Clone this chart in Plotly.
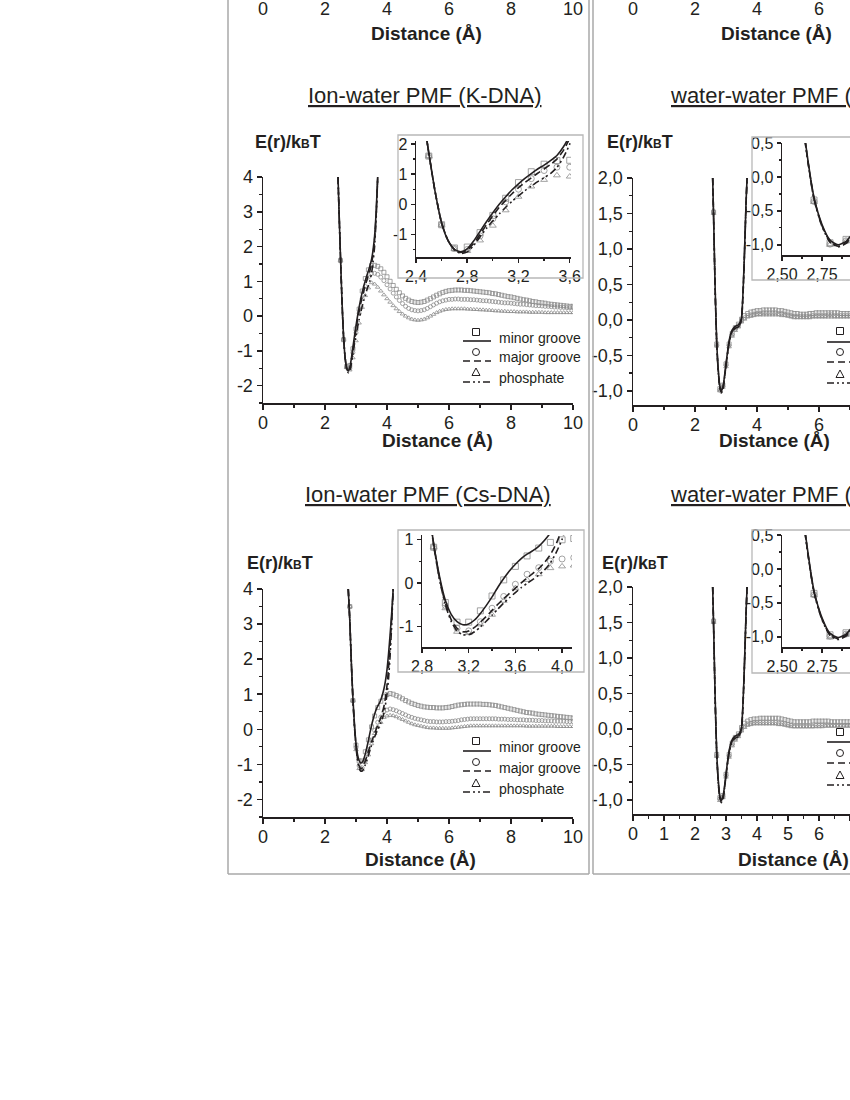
import plotly.graph_objects as go

W, H = 850, 1100
FONT = "Liberation Sans, Arial, Helvetica, sans-serif"
INK = "#231f20"
MARK = "#8c8c8c"
FRAME = "#a8a8a8"

# ---------------- Ion-water PMF (K-DNA) ----------------
K_R = [2.5, 2.6, 2.7, 2.8, 2.9, 3.0, 3.1, 3.2, 3.3, 3.4,
       3.5, 3.6, 3.7, 3.8, 3.9, 4.0, 4.1, 4.2, 4.3, 4.4,
       4.5, 4.6, 4.7, 4.8, 4.9, 5.0, 5.1, 5.2, 5.3, 5.4,
       5.5, 5.6, 5.7, 5.8, 5.9, 6.0, 6.1, 6.2, 6.3, 6.4,
       6.5, 6.6, 6.7, 6.8, 6.9, 7.0, 7.1, 7.2, 7.3, 7.4,
       7.5, 7.6, 7.7, 7.8, 7.9, 8.0, 8.1, 8.2, 8.3, 8.4,
       8.5, 8.6, 8.7, 8.8, 8.9, 9.0, 9.1, 9.2, 9.3, 9.4,
       9.5, 9.6, 9.7, 9.8, 9.9, 10.0]
K_MINOR = [1.60, -0.68, -1.45, -1.42, -0.94, -0.37, 0.20, 0.72, 1.08, 1.33,
           1.45, 1.46, 1.43, 1.36, 1.26, 1.13, 1.00, 0.88, 0.77, 0.67,
           0.58, 0.51, 0.46, 0.42, 0.40, 0.39, 0.40, 0.42, 0.46, 0.50,
           0.55, 0.60, 0.64, 0.68, 0.71, 0.73, 0.74, 0.75, 0.75, 0.75,
           0.74, 0.74, 0.73, 0.72, 0.71, 0.70, 0.69, 0.68, 0.67, 0.65,
           0.64, 0.62, 0.60, 0.58, 0.56, 0.55, 0.53, 0.51, 0.49, 0.47,
           0.46, 0.44, 0.42, 0.41, 0.39, 0.38, 0.37, 0.35, 0.34, 0.33,
           0.32, 0.31, 0.30, 0.29, 0.28, 0.28]
K_MAJOR = [1.60, -0.68, -1.47, -1.50, -1.05, -0.48, 0.08, 0.50, 0.85, 1.12,
           1.23, 1.23, 1.20, 1.12, 1.02, 0.90, 0.78, 0.66, 0.55, 0.45,
           0.36, 0.28, 0.22, 0.18, 0.16, 0.15, 0.16, 0.18, 0.22, 0.27,
           0.32, 0.37, 0.41, 0.44, 0.46, 0.48, 0.48, 0.49, 0.49, 0.48,
           0.48, 0.48, 0.47, 0.47, 0.46, 0.45, 0.44, 0.44, 0.43, 0.42,
           0.41, 0.40, 0.39, 0.38, 0.38, 0.37, 0.36, 0.35, 0.34, 0.34,
           0.33, 0.32, 0.31, 0.30, 0.30, 0.29, 0.28, 0.28, 0.27, 0.26,
           0.26, 0.25, 0.25, 0.24, 0.24, 0.24]
K_PHOS = [1.60, -0.68, -1.48, -1.55, -1.20, -0.71, -0.20, 0.25, 0.59, 0.81,
          0.96, 0.92, 0.83, 0.72, 0.61, 0.50, 0.40, 0.30, 0.21, 0.13,
          0.06, 0.00, -0.05, -0.09, -0.11, -0.12, -0.11, -0.09, -0.05, 0.00,
          0.05, 0.10, 0.14, 0.17, 0.19, 0.20, 0.21, 0.21, 0.21, 0.21,
          0.21, 0.20, 0.20, 0.19, 0.19, 0.18, 0.18, 0.17, 0.17, 0.16,
          0.15, 0.15, 0.14, 0.14, 0.13, 0.13, 0.13, 0.12, 0.12, 0.12,
          0.12, 0.11, 0.11, 0.11, 0.11, 0.11, 0.10, 0.10, 0.10, 0.10,
          0.10, 0.10, 0.10, 0.10, 0.10, 0.10]
# fitted curves around the first well
K_FIT_R = [2.42, 2.45, 2.5, 2.55, 2.6, 2.65, 2.7, 2.75, 2.8, 2.85, 2.9, 2.95, 3.0, 3.05,
           3.1, 3.15, 3.2, 3.25, 3.3, 3.35, 3.4, 3.45, 3.5, 3.55, 3.6, 3.65, 3.7]
K_FIT_MINOR = [4.0, 3.1, 1.7, 0.4, -0.62, -1.2, -1.5, -1.58, -1.48, -1.22, -0.9, -0.58, -0.28, 0.0,
               0.25, 0.48, 0.68, 0.86, 1.02, 1.17, 1.3, 1.45, 1.62, 1.9, 2.3, 3.0, 4.0]
K_FIT_MAJOR = [4.0, 3.1, 1.7, 0.4, -0.62, -1.2, -1.5, -1.6, -1.52, -1.3, -1.0, -0.68, -0.38, -0.1,
               0.13, 0.35, 0.55, 0.72, 0.88, 1.03, 1.17, 1.32, 1.5, 1.78, 2.2, 2.9, 4.0]
K_FIT_PHOS = [4.0, 3.1, 1.7, 0.4, -0.62, -1.2, -1.52, -1.63, -1.58, -1.37, -1.08, -0.8, -0.55, -0.32,
              -0.1, 0.1, 0.28, 0.45, 0.6, 0.75, 0.88, 1.02, 1.22, 1.55, 2.0, 2.8, 4.0]

# ---------------- Ion-water PMF (Cs-DNA) ----------------
CS_R = [2.8, 2.9, 3.0, 3.1, 3.2, 3.3, 3.4, 3.5, 3.6, 3.7,
        3.8, 3.9, 4.0, 4.1, 4.2, 4.3, 4.4, 4.5, 4.6, 4.7,
        4.8, 4.9, 5.0, 5.1, 5.2, 5.3, 5.4, 5.5, 5.6, 5.7,
        5.8, 5.9, 6.0, 6.1, 6.2, 6.3, 6.4, 6.5, 6.6, 6.7,
        6.8, 6.9, 7.0, 7.1, 7.2, 7.3, 7.4, 7.5, 7.6, 7.7,
        7.8, 7.9, 8.0, 8.1, 8.2, 8.3, 8.4, 8.5, 8.6, 8.7,
        8.8, 8.9, 9.0, 9.1, 9.2, 9.3, 9.4, 9.5, 9.6, 9.7,
        9.8, 9.9, 10.0]
CS_MINOR = [3.50, 0.82, -0.45, -0.90, -0.90, -0.64, -0.30, 0.07, 0.38, 0.62,
            0.80, 0.93, 0.99, 1.02, 1.00, 0.96, 0.92, 0.87, 0.82, 0.78,
            0.74, 0.71, 0.68, 0.66, 0.64, 0.63, 0.62, 0.62, 0.61, 0.61,
            0.61, 0.62, 0.63, 0.65, 0.67, 0.69, 0.70, 0.71, 0.72, 0.72,
            0.72, 0.72, 0.72, 0.71, 0.71, 0.70, 0.69, 0.68, 0.66, 0.64,
            0.62, 0.60, 0.58, 0.56, 0.54, 0.52, 0.50, 0.48, 0.47, 0.46,
            0.44, 0.43, 0.42, 0.41, 0.40, 0.39, 0.38, 0.37, 0.36, 0.35,
            0.34, 0.33, 0.32]
CS_MAJOR = [3.50, 0.82, -0.52, -1.04, -1.10, -0.89, -0.58, -0.31, -0.03, 0.20,
            0.35, 0.50, 0.55, 0.58, 0.56, 0.53, 0.49, 0.45, 0.41, 0.37,
            0.34, 0.31, 0.29, 0.27, 0.25, 0.23, 0.22, 0.22, 0.21, 0.21,
            0.21, 0.22, 0.22, 0.23, 0.24, 0.25, 0.27, 0.28, 0.29, 0.30,
            0.30, 0.30, 0.30, 0.30, 0.30, 0.30, 0.30, 0.30, 0.29, 0.29,
            0.29, 0.28, 0.28, 0.28, 0.27, 0.27, 0.27, 0.26, 0.26, 0.26,
            0.25, 0.25, 0.25, 0.24, 0.24, 0.24, 0.23, 0.23, 0.23, 0.23,
            0.22, 0.22, 0.22]
CS_PHOS = [3.50, 0.82, -0.58, -1.12, -1.15, -0.95, -0.73, -0.41, -0.12, 0.07,
           0.20, 0.34, 0.38, 0.40, 0.39, 0.36, 0.32, 0.28, 0.24, 0.20,
           0.16, 0.13, 0.11, 0.09, 0.07, 0.05, 0.04, 0.04, 0.03, 0.03,
           0.03, 0.03, 0.03, 0.04, 0.05, 0.06, 0.07, 0.08, 0.09, 0.10,
           0.10, 0.10, 0.10, 0.10, 0.10, 0.10, 0.10, 0.10, 0.10, 0.10,
           0.10, 0.10, 0.10, 0.10, 0.10, 0.10, 0.10, 0.09, 0.09, 0.09,
           0.09, 0.09, 0.09, 0.09, 0.09, 0.09, 0.09, 0.08, 0.08, 0.08,
           0.08, 0.08, 0.08]
CS_FIT_R = [2.75, 2.8, 2.85, 2.9, 2.95, 3.0, 3.05, 3.1, 3.15, 3.2, 3.25, 3.3, 3.35, 3.4, 3.45,
            3.5, 3.55, 3.6, 3.65, 3.7, 3.75, 3.8, 3.85, 3.9, 3.95, 4.0, 4.05, 4.1, 4.15, 4.2]
CS_FIT_MINOR = [4.0, 3.1, 1.9, 0.9, 0.15, -0.4, -0.72, -0.89, -0.96, -0.94, -0.85, -0.7, -0.52, -0.32, -0.1,
                0.1, 0.28, 0.43, 0.56, 0.66, 0.74, 0.84, 0.98, 1.15, 1.38, 1.7, 2.15, 2.7, 3.3, 4.0]
CS_FIT_MAJOR = [4.0, 3.1, 1.9, 0.88, 0.1, -0.47, -0.84, -1.04, -1.12, -1.1, -1.02, -0.9, -0.77, -0.63, -0.49,
                -0.36, -0.24, -0.12, 0.0, 0.11, 0.22, 0.33, 0.47, 0.65, 0.9, 1.25, 1.75, 2.4, 3.15, 4.0]
CS_FIT_PHOS = [4.0, 3.1, 1.9, 0.86, 0.08, -0.5, -0.88, -1.1, -1.19, -1.19, -1.12, -1.01, -0.88, -0.74, -0.6,
               -0.46, -0.34, -0.22, -0.11, -0.01, 0.08, 0.18, 0.3, 0.46, 0.7, 1.0, 1.45, 2.1, 2.95, 4.0]

# ---------------- water-water PMF (right column, cut at page edge) ----------------
WW_R = [2.6, 2.7, 2.8, 2.9, 3.0, 3.1, 3.2, 3.3, 3.4, 3.5,
        3.6, 3.7, 3.8, 3.9, 4.0, 4.1, 4.2, 4.3, 4.4, 4.5,
        4.6, 4.7, 4.8, 4.9, 5.0, 5.1, 5.2, 5.3, 5.4, 5.5,
        5.6, 5.7, 5.8, 5.9, 6.0, 6.1, 6.2, 6.3, 6.4, 6.5,
        6.6, 6.7, 6.8, 6.9, 7.0]
WWK_MINOR = [1.52, -0.34, -0.97, -0.92, -0.62, -0.34, -0.19, -0.11, -0.06, 0.01,
             0.06, 0.09, 0.11, 0.12, 0.13, 0.13, 0.14, 0.14, 0.14, 0.14,
             0.14, 0.13, 0.13, 0.12, 0.11, 0.10, 0.09, 0.09, 0.08, 0.08,
             0.08, 0.09, 0.09, 0.10, 0.10, 0.10, 0.10, 0.10, 0.10, 0.10,
             0.10, 0.09, 0.09, 0.09, 0.09]
WWK_MAJOR = [1.52, -0.36, -0.99, -0.94, -0.64, -0.36, -0.21, -0.13, -0.08, -0.01,
             0.03, 0.06, 0.07, 0.08, 0.09, 0.09, 0.10, 0.10, 0.10, 0.10,
             0.10, 0.09, 0.09, 0.08, 0.07, 0.06, 0.05, 0.05, 0.05, 0.05,
             0.05, 0.05, 0.06, 0.06, 0.06, 0.06, 0.06, 0.07, 0.07, 0.06,
             0.06, 0.06, 0.06, 0.06, 0.06]
WWK_PHOS = [1.50, -0.37, -1.00, -0.95, -0.66, -0.38, -0.23, -0.15, -0.10, -0.03,
            0.01, 0.04, 0.05, 0.06, 0.07, 0.07, 0.07, 0.07, 0.07, 0.07,
            0.07, 0.07, 0.06, 0.06, 0.05, 0.04, 0.03, 0.03, 0.03, 0.03,
            0.03, 0.03, 0.04, 0.04, 0.04, 0.04, 0.04, 0.04, 0.04, 0.04,
            0.04, 0.04, 0.04, 0.04, 0.04]
WWCS_MINOR = [1.52, -0.36, -0.97, -0.94, -0.64, -0.36, -0.20, -0.12, -0.07, 0.02,
              0.08, 0.11, 0.13, 0.14, 0.14, 0.15, 0.15, 0.15, 0.15, 0.15,
              0.15, 0.15, 0.14, 0.13, 0.12, 0.11, 0.10, 0.10, 0.10, 0.10,
              0.10, 0.10, 0.11, 0.11, 0.11, 0.11, 0.11, 0.11, 0.10, 0.10,
              0.10, 0.10, 0.10, 0.10, 0.10]
WWCS_MAJOR = [1.52, -0.38, -0.99, -0.96, -0.66, -0.38, -0.22, -0.14, -0.09, -0.01,
              0.04, 0.07, 0.08, 0.09, 0.09, 0.09, 0.09, 0.09, 0.09, 0.09,
              0.09, 0.08, 0.08, 0.07, 0.06, 0.05, 0.04, 0.04, 0.04, 0.04,
              0.04, 0.04, 0.04, 0.05, 0.05, 0.05, 0.05, 0.05, 0.05, 0.05,
              0.05, 0.05, 0.05, 0.05, 0.05]
WWCS_PHOS = [1.50, -0.39, -1.01, -0.97, -0.68, -0.40, -0.24, -0.16, -0.11, -0.03,
             0.02, 0.05, 0.06, 0.07, 0.07, 0.07, 0.07, 0.07, 0.07, 0.07,
             0.07, 0.06, 0.06, 0.05, 0.04, 0.03, 0.03, 0.03, 0.03, 0.03,
             0.03, 0.03, 0.03, 0.03, 0.03, 0.03, 0.04, 0.04, 0.04, 0.04,
             0.04, 0.04, 0.04, 0.04, 0.04]
WW_FIT_R = [2.57, 2.6, 2.65, 2.7, 2.75, 2.8, 2.85, 2.9, 2.95, 3.0, 3.05, 3.1,
            3.15, 3.2, 3.25, 3.3, 3.35, 3.4, 3.45, 3.5, 3.55, 3.6, 3.65, 3.68]
WWK_FIT_MINOR = [2.0, 1.45, 0.45, -0.3, -0.7, -0.93, -1.0, -0.95, -0.8, -0.62, -0.45, -0.3,
                 -0.2, -0.14, -0.11, -0.09, -0.08, -0.07, -0.04, 0.03, 0.4, 1.0, 1.7, 2.0]
WWK_FIT_MAJOR = [2.0, 1.45, 0.43, -0.32, -0.72, -0.95, -1.02, -0.97, -0.82, -0.64, -0.47, -0.32,
                 -0.22, -0.16, -0.13, -0.11, -0.1, -0.09, -0.06, 0.01, 0.38, 0.98, 1.68, 2.0]
WWK_FIT_PHOS = [2.0, 1.45, 0.42, -0.33, -0.73, -0.96, -1.03, -0.98, -0.83, -0.65, -0.48, -0.33,
                -0.23, -0.17, -0.14, -0.12, -0.11, -0.1, -0.07, 0.0, 0.37, 0.97, 1.67, 2.0]
WWCS_FIT_MINOR = [2.0, 1.45, 0.45, -0.32, -0.72, -0.95, -1.01, -0.96, -0.82, -0.64, -0.46, -0.31,
                  -0.21, -0.15, -0.12, -0.1, -0.09, -0.08, -0.05, 0.02, 0.38, 0.98, 1.68, 2.0]
WWCS_FIT_MAJOR = [2.0, 1.45, 0.43, -0.34, -0.74, -0.97, -1.03, -0.98, -0.84, -0.66, -0.48, -0.33,
                  -0.23, -0.17, -0.14, -0.12, -0.11, -0.1, -0.07, 0.0, 0.36, 0.96, 1.66, 2.0]
WWCS_FIT_PHOS = [2.0, 1.45, 0.42, -0.35, -0.75, -0.98, -1.04, -0.99, -0.85, -0.67, -0.49, -0.34,
                 -0.24, -0.18, -0.15, -0.13, -0.12, -0.11, -0.08, -0.01, 0.35, 0.95, 1.65, 2.0]

# ---------------- ticks and labels ----------------
SERIES_NAMES = ["minor groove", "major groove", "phosphate"]
DIST_TICKS = [0, 2, 4, 6, 8, 10]
DIST_LABELS = ["0", "2", "4", "6", "8", "10"]
DIST1_TICKS = [0, 1, 2, 3, 4, 5, 6, 7, 8, 9, 10]
DIST1_LABELS = ["0", "1", "2", "3", "4", "5", "6", "7", "8", "9", "10"]
ION_Y_TICKS = [-2, -1, 0, 1, 2, 3, 4]
ION_Y_LABELS = ["-2", "-1", "0", "1", "2", "3", "4"]
WW_Y_TICKS = [-1.0, -0.5, 0.0, 0.5, 1.0, 1.5, 2.0]
WW_Y_LABELS = ["-1,0", "-0,5", "0,0", "0,5", "1,0", "1,5", "2,0"]
K_IN_X_TICKS = [2.4, 2.8, 3.2, 3.6]
K_IN_X_LABELS = ["2,4", "2,8", "3,2", "3,6"]
K_IN_Y_TICKS = [-1, 0, 1, 2]
K_IN_Y_LABELS = ["-1", "0", "1", "2"]
CS_IN_X_TICKS = [2.8, 3.2, 3.6, 4.0]
CS_IN_X_LABELS = ["2,8", "3,2", "3,6", "4,0"]
CS_IN_Y_TICKS = [-1, 0, 1]
CS_IN_Y_LABELS = ["-1", "0", "1"]
WW_IN_X_TICKS = [2.5, 2.75, 3.0]
WW_IN_X_LABELS = ["2,50", "2,75", "3,00"]
WW_IN_Y_TICKS = [-1.0, -0.5, 0.0, 0.5]
WW_IN_Y_LABELS = ["-1,0", "-0,5", "0,0", "0,5"]

SYMBOLS = ["square-open", "circle-open", "triangle-up-open"]
DASHES = ["solid", "7px,4px", "7px,3px,2px,3px,2px,3px"]


def dx(a, b):
    return [a / W, b / W]


def dy(top, bottom):
    return [1 - bottom / H, 1 - top / H]


def axis(domain, rng, vals, text, minor, font, ticklen, anchor, line=True, standoff=0):
    return dict(
        domain=domain, range=rng, anchor=anchor, automargin=False, tickmode="array",
        tickvals=vals, ticktext=text, showgrid=False, zeroline=False,
        showline=line, linecolor=INK, linewidth=1.5,
        ticks="outside" if line else "", ticklen=ticklen, tickwidth=1.5, tickcolor=INK,
        ticklabelstandoff=standoff,
        tickfont=dict(family=FONT, size=font, color=INK),
        minor=dict(ticks="outside" if line else "", ticklen=max(ticklen - 2, 2), tickwidth=1.2,
                   tickcolor=INK, tickmode="linear", tick0=0, dtick=minor, showgrid=False),
    )


fig = go.Figure()


def add_curves(xa, ya, r, series, fit_r, fits, msize):
    for sym, y in zip(SYMBOLS, series):
        fig.add_trace(go.Scatter(
            x=r, y=y, xaxis=xa, yaxis=ya, mode="markers", hoverinfo="skip",
            marker=dict(symbol=sym, size=msize, color=MARK, line=dict(width=0.8)),
        ))
    for dash, y in zip(DASHES, fits):
        fig.add_trace(go.Scatter(
            x=fit_r, y=y, xaxis=xa, yaxis=ya, mode="lines", hoverinfo="skip",
            line=dict(color=INK, width=1.6, dash=dash, shape="spline", smoothing=0.6),
        ))


k_series = [K_MINOR, K_MAJOR, K_PHOS]
k_fits = [K_FIT_MINOR, K_FIT_MAJOR, K_FIT_PHOS]
cs_series = [CS_MINOR, CS_MAJOR, CS_PHOS]
cs_fits = [CS_FIT_MINOR, CS_FIT_MAJOR, CS_FIT_PHOS]
wwk_series = [WWK_MINOR, WWK_MAJOR, WWK_PHOS]
wwk_fits = [WWK_FIT_MINOR, WWK_FIT_MAJOR, WWK_FIT_PHOS]
wwcs_series = [WWCS_MINOR, WWCS_MAJOR, WWCS_PHOS]
wwcs_fits = [WWCS_FIT_MINOR, WWCS_FIT_MAJOR, WWCS_FIT_PHOS]

# main panels
add_curves("x", "y", K_R, k_series, K_FIT_R, k_fits, 4)
add_curves("x2", "y2", WW_R, wwk_series, WW_FIT_R, wwk_fits, 4)
add_curves("x3", "y3", CS_R, cs_series, CS_FIT_R, cs_fits, 4)
add_curves("x4", "y4", WW_R, wwcs_series, WW_FIT_R, wwcs_fits, 4)
# insets
add_curves("x5", "y5", K_R, k_series, K_FIT_R, k_fits, 6)
add_curves("x6", "y6", WW_R, wwk_series, WW_FIT_R, wwk_fits, 6)
add_curves("x7", "y7", CS_R, cs_series, CS_FIT_R, cs_fits, 6)
add_curves("x8", "y8", WW_R, wwcs_series, WW_FIT_R, wwcs_fits, 6)
# empty traces so the cut-off axes of the row above get drawn
for xa, ya in [("x9", "y9"), ("x10", "y10")]:
    fig.add_trace(go.Scatter(x=[], y=[], xaxis=xa, yaxis=ya, mode="markers", hoverinfo="skip"))

RIGHT_MAX = (W - 633) / 31  # right column x axis runs off the page
WW_IN_MAX = 2.5 + (W - 782) / 160

layout_axes = {
    "xaxis": axis(dx(263, 573), [0, 10], DIST_TICKS, DIST_LABELS, 1, 18, 5, "y", standoff=-2),
    "yaxis": axis(dy(177, 403), [-2.5, 4], ION_Y_TICKS, ION_Y_LABELS, 0.5, 18, 5, "x"),
    "xaxis2": axis(dx(633, W), [0, RIGHT_MAX], DIST_TICKS, DIST_LABELS, 1, 18, 5, "y2", standoff=-2),
    "yaxis2": axis(dy(178, 405), [-1.2, 2.0], WW_Y_TICKS, WW_Y_LABELS, 0.25, 18, 5, "x2"),
    "xaxis3": axis(dx(263, 573), [0, 10], DIST_TICKS, DIST_LABELS, 1, 18, 5, "y3", standoff=-2),
    "yaxis3": axis(dy(589, 817), [-2.5, 4], ION_Y_TICKS, ION_Y_LABELS, 0.5, 18, 5, "x3"),
    "xaxis4": axis(dx(633, W), [0, RIGHT_MAX], DIST1_TICKS, DIST1_LABELS, 0.5, 18, 5, "y4", standoff=-2),
    "yaxis4": axis(dy(587, 814), [-1.2, 2.0], WW_Y_TICKS, WW_Y_LABELS, 0.25, 18, 5, "x4"),
    "xaxis5": axis(dx(416, 571), [2.4, 3.61], K_IN_X_TICKS, K_IN_X_LABELS, 0.2, 16, 4, "y5"),
    "yaxis5": axis(dy(141, 257), [-1.75, 2.1], K_IN_Y_TICKS, K_IN_Y_LABELS, 0.5, 16, 4, "x5"),
    "xaxis6": axis(dx(782, W), [2.5, WW_IN_MAX], WW_IN_X_TICKS, WW_IN_X_LABELS, 0.125, 16, 4, "y6"),
    "yaxis6": axis(dy(143, 255), [-1.15, 0.5], WW_IN_Y_TICKS, WW_IN_Y_LABELS, 0.25, 16, 4, "x6"),
    "xaxis7": axis(dx(422, 572), [2.8, 4.085], CS_IN_X_TICKS, CS_IN_X_LABELS, 0.2, 16, 4, "y7"),
    "yaxis7": axis(dy(535, 647), [-1.47, 1.1], CS_IN_Y_TICKS, CS_IN_Y_LABELS, 0.5, 16, 4, "x7"),
    "xaxis8": axis(dx(782, W), [2.5, WW_IN_MAX], WW_IN_X_TICKS, WW_IN_X_LABELS, 0.125, 16, 4, "y8"),
    "yaxis8": axis(dy(535, 647), [-1.15, 0.5], WW_IN_Y_TICKS, WW_IN_Y_LABELS, 0.25, 16, 4, "x8"),
    # bottom edge of the panels above (only their tick labels are in the crop)
    "xaxis9": axis(dx(263, 573), [0, 10], DIST_TICKS, DIST_LABELS, 1, 18, 0, "y9", line=False, standoff=-5),
    "yaxis9": dict(domain=[0.999, 1], range=[0, 1], showticklabels=False, showline=False,
                   showgrid=False, zeroline=False, anchor="x9", automargin=False),
    "xaxis10": axis(dx(633, W), [0, RIGHT_MAX], DIST_TICKS, DIST_LABELS, 1, 18, 0, "y10", line=False, standoff=-5),
    "yaxis10": dict(domain=[0.999, 1], range=[0, 1], showticklabels=False, showline=False,
                    showgrid=False, zeroline=False, anchor="x10", automargin=False),
}

shapes = []
annotations = []


def px_line(x0, y0, x1, y1, color, width, dash="solid"):
    shapes.append(dict(type="line", xref="paper", yref="paper",
                       x0=x0 / W, y0=1 - y0 / H, x1=x1 / W, y1=1 - y1 / H,
                       line=dict(color=color, width=width, dash=dash)))


def text(x, y, s, size, xanchor="center", bold=False, under=False):
    font = dict(family=FONT, size=size, color=INK)
    if bold:
        font["weight"] = "bold"
    if under:
        font["lineposition"] = "under"
    annotations.append(dict(xref="paper", yref="paper", x=x / W, y=1 - y / H, text=s,
                            showarrow=False, xanchor=xanchor, yanchor="middle", font=font))


# outer panel frames
px_line(228, 0, 228, 874, FRAME, 1.5)
px_line(589, 0, 589, 874, FRAME, 1.5)
px_line(228, 874, 589, 874, FRAME, 1.5)
px_line(593, 0, 593, 874, FRAME, 1.5)
px_line(593, 874, W + 5, 874, FRAME, 1.5)

# inset frames
for x0, y0, x1, y1 in [(398, 135, 583, 278), (398, 530, 584, 672),
                       (752, 137, W + 20, 280), (752, 530, W + 20, 673)]:
    shapes.append(dict(type="rect", xref="paper", yref="paper",
                       x0=x0 / W, y0=1 - y1 / H, x1=x1 / W, y1=1 - y0 / H,
                       line=dict(color="#b8b8b8", width=1.3)))


def legend(lx, glyph_ys, line_ys, text_x=None):
    gx = lx + 13
    for i, (gy, ly) in enumerate(zip(glyph_ys, line_ys)):
        px_line(lx, ly, lx + 28, ly, INK, 1.6, DASHES[i])
        r = 3.5
        if i == 0:
            shapes.append(dict(type="rect", xref="paper", yref="paper",
                               x0=(gx - r) / W, x1=(gx + r) / W, y0=1 - (gy + r) / H, y1=1 - (gy - r) / H,
                               line=dict(color=INK, width=1)))
        elif i == 1:
            shapes.append(dict(type="circle", xref="paper", yref="paper",
                               x0=(gx - r) / W, x1=(gx + r) / W, y0=1 - (gy + r) / H, y1=1 - (gy - r) / H,
                               line=dict(color=INK, width=1)))
        else:
            pts = [(gx, gy - r - 0.5), (gx + r + 0.5, gy + r), (gx - r - 0.5, gy + r)]
            path = "M " + " L ".join(f"{x / W:.5f},{1 - y / H:.5f}" for x, y in pts) + " Z"
            shapes.append(dict(type="path", xref="paper", yref="paper", path=path,
                               line=dict(color=INK, width=1)))
        if text_x is not None:
            text(text_x, (gy + ly) / 2 + 1, SERIES_NAMES[i], 14, xanchor="left")


legend(463, [332, 352, 372], [341, 361, 382], 497)
legend(463, [741, 762, 783], [751, 771, 792], 497)
# right column legends: their labels fall beyond the page edge
legend(827, [331, 352, 374], [342, 362, 383])
legend(827, [732, 753, 775], [742, 763, 785])

# panel titles
text(424, 95, "Ion-water PMF (K-DNA)", 22, under=True)
text(428, 495, "Ion-water PMF (Cs-DNA)", 22, under=True)
text(668, 95, "water-water PMF (K-DNA)", 22, xanchor="left", under=True)
text(668, 495, "water-water PMF (Cs-DNA)", 22, xanchor="left", under=True)

# y labels
ylab = "E(r)/k<span style='font-size:12px'>B</span>T"
text(253, 142, ylab, 18, xanchor="left", bold=True)
text(605, 142, ylab, 18, xanchor="left", bold=True)
text(245, 563, ylab, 18, xanchor="left", bold=True)
text(600, 563, ylab, 18, xanchor="left", bold=True)

# x titles
for x, y in [(426, 33), (776, 33), (437, 441), (774, 441), (420, 859), (793, 859)]:
    text(x, y, "Distance (Å)", 19, bold=True)

fig.update_layout(
    width=W, height=H, margin=dict(l=0, r=0, t=0, b=0, autoexpand=False),
    paper_bgcolor="white", plot_bgcolor="rgba(0,0,0,0)",
    showlegend=False, separators=",.", hovermode=False,
    shapes=shapes, annotations=annotations,
    **layout_axes,
)

fig.write_html("out.html", config={"displayModeBar": False, "staticPlot": True},
               post_script="document.body.style.margin = '0';")
